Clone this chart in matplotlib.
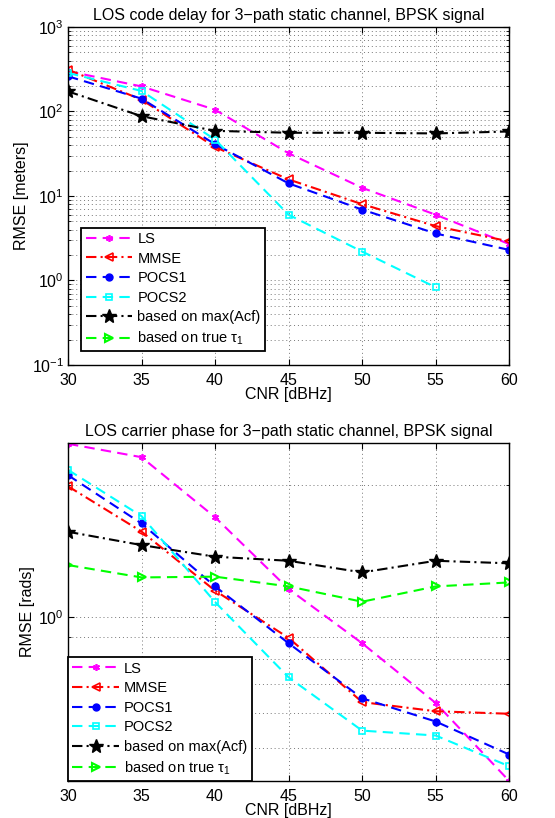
import numpy as np
import matplotlib.pyplot as plt
from matplotlib.ticker import LogLocator, LogFormatterMathtext, NullFormatter, FixedLocator

plt.rcParams['font.family'] = ['Liberation Sans', 'DejaVu Sans']
plt.rcParams['mathtext.fontset'] = 'custom'
plt.rcParams['mathtext.rm'] = 'Liberation Sans'
plt.rcParams['mathtext.it'] = 'Liberation Sans'

cnr = [30, 35, 40, 45, 50, 55, 60]
nan = np.nan

# code delay RMSE [m]
code_ls = [300, 198, 105, 32, 12.5, 6.0, 2.7]
code_mmse = [313, 138, 38, 15.7, 8.0, 4.4, 2.9]
code_pocs1 = [261, 142, 41, 14.1, 6.9, 3.6, 2.3]
code_pocs2 = [286, 175, 46.5, 6.0, 2.2, 0.83, nan]
code_acf = [173, 88, 59, 56, 56, 55, 58]
code_true = [nan] * 7

# carrier phase RMSE [rads]
ph_ls = [2.49, 2.32, 1.69, 1.157, 0.869, 0.634, 0.42]
ph_mmse = [1.99, 1.567, 1.147, 0.894, 0.637, 0.607, 0.599]
ph_pocs1 = [2.11, 1.635, 1.173, 0.869, 0.650, 0.575, 0.483]
ph_pocs2 = [2.17, 1.70, 1.08, 0.726, 0.548, 0.534, 0.454]
ph_acf = [1.565, 1.459, 1.372, 1.343, 1.263, 1.343, 1.325]
ph_true = [1.313, 1.23, 1.235, 1.173, 1.082, 1.173, 1.198]

labels = ['LS', 'MMSE', 'POCS1', 'POCS2', 'based on max(Acf)', r'based on true $\tau_1$']
styles = [
    dict(color='#ff00ff', ls=(0, (5, 3)), marker=(6, 2, 0), ms=5, mew=1.2),
    dict(color='#ff0000', ls=(0, (5, 2, 1, 2)), marker='<', ms=6, mfc='none', mew=1.2),
    dict(color='#0000ff', ls=(0, (5, 3)), marker='o', ms=5),
    dict(color='#00ffff', ls=(0, (5, 3)), marker='s', ms=5, mfc='none', mew=1.2),
    dict(color='black', ls=(0, (5, 2, 1, 2)), marker='*', ms=10),
    dict(color='#00ff00', ls=(0, (5, 3)), marker='>', ms=6, mfc='none', mew=1.5),
]

fig = plt.figure(figsize=(5.55, 8.18), dpi=100)
ax1 = fig.add_axes([0.1225, 0.5538, 0.795, 0.4132])
ax2 = fig.add_axes([0.1225, 0.0452, 0.795, 0.4132])

FS = 11.5


def style_axes(ax):
    ax.set_yscale('log')
    ax.set_xlim(30, 60)
    ax.set_xticks(cnr)
    ax.tick_params(which='both', direction='in', top=True, right=True, labelsize=FS, pad=3)
    ax.tick_params(axis='x', pad=6)
    ax.tick_params(which='major', length=4)
    ax.tick_params(which='minor', length=2)
    ax.grid(True, which='both', ls=(0, (1, 3)), color='#777777', lw=0.7)
    for s in ax.spines.values():
        s.set_linewidth(1.0)
    ax.set_xlabel('CNR [dBHz]', fontsize=FS, labelpad=-1)


def add_legend(ax, anchor):
    leg = ax.legend(loc='lower left', bbox_to_anchor=anchor, fontsize=10.5,
                    fancybox=False, framealpha=1, edgecolor='black', handlelength=3.2,
                    borderpad=0.3, labelspacing=0.38, handletextpad=0.35, borderaxespad=0)
    leg.get_frame().set_linewidth(1.3)


for data, st, lab in zip([code_ls, code_mmse, code_pocs1, code_pocs2, code_acf, code_true], styles, labels):
    ax1.plot(cnr, data, lw=1.5, label=lab, **st)
style_axes(ax1)
ax1.set_ylim(0.1, 1000)
ax1.yaxis.set_major_locator(LogLocator(base=10))
ax1.yaxis.set_major_formatter(LogFormatterMathtext())
ax1.yaxis.set_minor_locator(LogLocator(base=10, subs=np.arange(2, 10)))
ax1.yaxis.set_minor_formatter(NullFormatter())
ax1.set_ylabel('RMSE [meters]', fontsize=FS, labelpad=2)
ax1.set_title('LOS code delay for 3\u2212path static channel, BPSK signal', fontsize=11.5, pad=5)
add_legend(ax1, (0.03, 0.04))

for data, st, lab in zip([ph_ls, ph_mmse, ph_pocs1, ph_pocs2, ph_acf, ph_true], styles, labels):
    ax2.plot(cnr, data, lw=1.5, label=lab, **st)
style_axes(ax2)
ax2.set_ylim(0.42, 2.5)
ax2.yaxis.set_major_locator(FixedLocator([1.0]))
ax2.yaxis.set_major_formatter(LogFormatterMathtext())
ax2.yaxis.set_minor_locator(FixedLocator([0.5, 0.6, 0.7, 0.8, 0.9, 2.0]))
ax2.yaxis.set_minor_formatter(NullFormatter())
ax2.set_ylabel('RMSE [rads]', fontsize=FS, labelpad=2)
ax2.set_title('LOS carrier phase for 3\u2212path static channel, BPSK signal', fontsize=11.5, pad=5)
add_legend(ax2, (0, 0))

fig.savefig('out.png', dpi=100)
